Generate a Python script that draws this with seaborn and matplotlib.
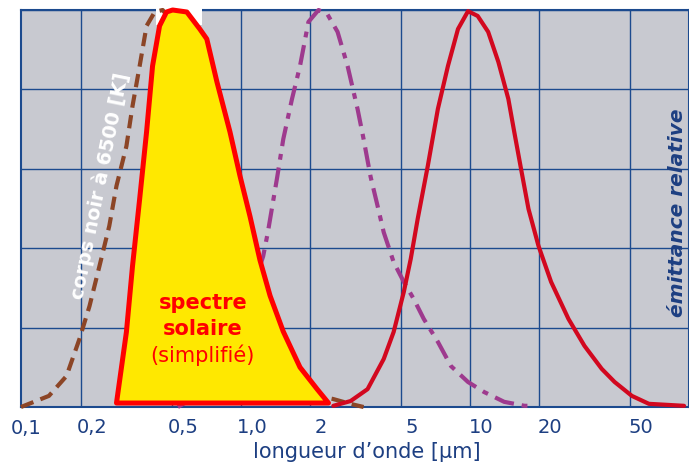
import numpy as np
import matplotlib
matplotlib.use("Agg")
import matplotlib.pyplot as plt
import matplotlib.transforms as mtransforms
from matplotlib.patches import Polygon, Rectangle
from matplotlib.ticker import NullLocator, NullFormatter
import seaborn as sns

#%%
# values (wavelength in um, relative emittance 0..1)
bb_wl = [0.1095, 0.145, 0.173, 0.197, 0.218, 0.241, 0.266, 0.286, 0.316, 0.336,
         0.361, 0.387, 0.42, 0.455, 0.5, 0.6, 0.8, 1.0, 1.5, 2.0, 2.3, 2.53, 3.0, 3.43]
bb_em = [0.0, 0.028, 0.078, 0.171, 0.254, 0.355, 0.456, 0.557, 0.657, 0.758,
         0.859, 0.96, 0.995, 1.0, 0.97, 0.88, 0.66, 0.46, 0.15, 0.04, 0.025, 0.02, 0.008, 0.0]

sol_wl = [0.286, 0.316, 0.336, 0.361, 0.387, 0.411, 0.441, 0.473, 0.503, 0.58,
          0.661, 0.709, 0.785, 0.895, 0.99, 1.095, 1.21, 1.34, 1.53, 1.81,
          2.15, 2.41]
sol_em = [0.01, 0.189, 0.355, 0.524, 0.693, 0.859, 0.96, 0.995, 1.0, 0.995,
          0.952, 0.927, 0.819, 0.693, 0.582, 0.48, 0.37, 0.28, 0.19, 0.1,
          0.045, 0.01]

mid_wl = [0.53, 0.7, 0.9, 1.1, 1.25, 1.31, 1.44, 1.53, 1.67, 1.81, 1.97, 2.18,
          2.38, 2.64, 2.92, 3.23, 3.43, 3.68, 3.95, 4.2, 4.64, 5.14, 5.68,
          6.28, 7.24, 8.26, 9.8, 11.5, 14.1, 17.3, 19.1]
mid_em = [0.0, 0.04, 0.13, 0.28, 0.38, 0.44, 0.58, 0.675, 0.776, 0.859, 0.97, 1.0,
          0.99, 0.945, 0.859, 0.75, 0.675, 0.58, 0.506, 0.44, 0.365, 0.315, 0.272,
          0.222, 0.164, 0.103, 0.063, 0.038, 0.013, 0.003, 0.003]

far_wl = [2.53, 3.01, 3.57, 4.2, 4.64, 5.14, 5.51, 5.91, 6.54, 7.24, 8.01, 8.86,
          9.8, 10.8, 12.0, 13.3, 14.7, 15.6, 16.7, 18.0, 19.9, 22.6, 26.9, 31.6,
          37.6, 42.8, 50.9, 60.4, 86.0]
far_em = [0.003, 0.015, 0.045, 0.121, 0.189, 0.29, 0.373, 0.474, 0.607, 0.751,
          0.859, 0.952, 0.997, 0.985, 0.945, 0.869, 0.776, 0.693, 0.6, 0.499,
          0.406, 0.315, 0.222, 0.154, 0.096, 0.063, 0.028, 0.008, 0.003]

tick_vals = [0.2, 0.5, 1, 2, 5, 10, 20, 50]
tick_labels = ['0,2', '0,5', '1,0', '2', '5', '10', '20', '50']

#%%
sns.set_style("white")
plt.rcParams['font.family'] = ['DejaVu Sans']

navy = '#1c4a8e'
text_blue = '#1d3f82'

fig = plt.figure(figsize=(6.89, 4.64), dpi=100)
ax = fig.add_axes([21/689, 56/464, 668/689, 397/464])
ax.set_facecolor('#c8c9d0')
ax.set_xscale('log')

# curves
sns.lineplot(x=bb_wl, y=bb_em, ax=ax, color='#8c4526', lw=3.0,
             linestyle=(0, (3.2, 1.8)), zorder=3, clip_on=False)
sns.lineplot(x=mid_wl, y=mid_em, ax=ax, color='#9e3a8e', lw=3.0,
             linestyle=(0, (4.8, 1.9, 1.4, 1.9)), zorder=3, clip_on=False)

# simplified solar spectrum
ax.add_patch(Polygon(np.column_stack([sol_wl, sol_em]), closed=True,
                     facecolor='#ffe800', edgecolor='#ff0000', lw=3.6,
                     joinstyle='round', zorder=4, clip_on=False))

sns.lineplot(x=far_wl, y=far_em, ax=ax, color='#d2081f', lw=3.0,
             solid_joinstyle='round', zorder=5, clip_on=False)

# white patch at the top behind the solar peak
ax.add_patch(Rectangle((0.424, 0.962), 0.675 - 0.424, 0.05, facecolor='white',
                       edgecolor='none', zorder=2.6, clip_on=False))

ax.set_xlim(0.1095, 90.4)
ax.set_ylim(0, 1)

# grid & spines
ax.set_xticks(tick_vals)
ax.set_xticklabels(tick_labels)
ax.xaxis.set_minor_locator(NullLocator())
ax.xaxis.set_minor_formatter(NullFormatter())
ax.set_yticks([0, 0.2, 0.4, 0.6, 0.8, 1.0])
ax.set_yticklabels([])
ax.grid(True, which='major', color=navy, lw=1.0)
ax.set_axisbelow(True)
for s in ax.spines.values():
    s.set_color(navy)
    s.set_linewidth(1.5)
ax.tick_params(axis='both', length=0)
ax.tick_params(axis='x', labelsize=14, labelcolor=text_blue, pad=7)

offset = mtransforms.ScaledTranslation(11/100, 0, fig.dpi_scale_trans)
for lab in ax.get_xticklabels():
    lab.set_transform(lab.get_transform() + offset)

# 0,1 sits just outside the left limit
ax.annotate('0,1', xy=(0.1, 0), xycoords=('data', 'axes fraction'),
            xytext=(10.5, -14.8), textcoords='offset points',
            ha='center', va='center', fontsize=14, color=text_blue,
            annotation_clip=False)

ax.set_xlabel('longueur d\u2019onde [\u00b5m]', fontsize=15, color=text_blue,
              va='center')
ax.xaxis.set_label_coords((367 - 21) / 668, (408 - 452) / 397)

# labels in the plot
ax.text(0.242, 0.559, 'corps noir \u00e0 6500 [K]', rotation=78.6,
        rotation_mode='anchor', ha='center', va='center', fontsize=14,
        fontweight='bold', color='white', zorder=6)
ax.text(0.682, 0.2645, 'spectre', ha='center', va='center', fontsize=15,
        fontweight='bold', color='#ff0000', zorder=6)
ax.text(0.682, 0.199, 'solaire', ha='center', va='center', fontsize=15,
        fontweight='bold', color='#ff0000', zorder=6)
ax.text(0.682, 0.1335, '(simplifi\u00e9)', ha='center', va='center',
        fontsize=15, color='#ff0000', zorder=6)
ax.text((677.5 - 21) / 668, (408 - 213) / 397, '\u00e9mittance relative',
        transform=ax.transAxes, rotation=90, ha='center', va='center',
        fontsize=14.5, fontweight='bold', fontstyle='italic', color=text_blue,
        zorder=6)

fig.savefig('out.png', dpi=100)
